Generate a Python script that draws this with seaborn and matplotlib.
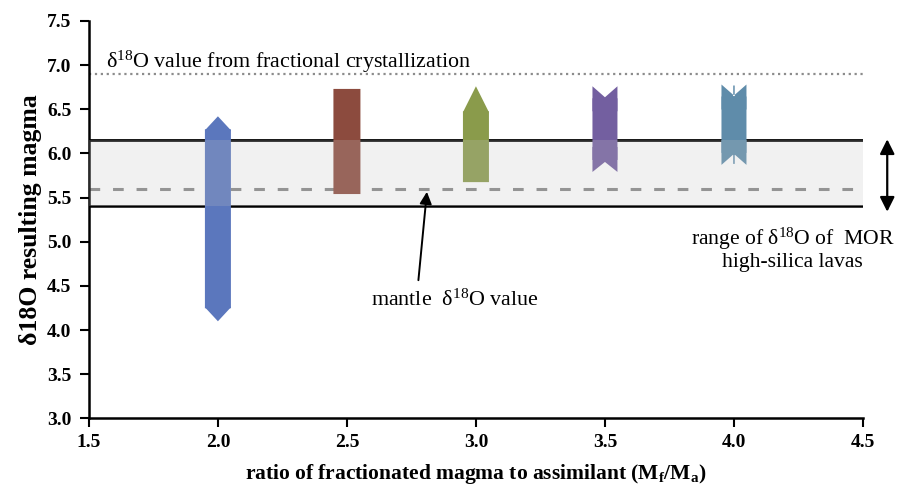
import numpy as np
import pandas as pd
import matplotlib
matplotlib.use("Agg")
import matplotlib.pyplot as plt
from matplotlib.path import Path
import seaborn as sns

# ---------------- data ----------------
ratio = [2.0, 2.5, 3.0, 3.5, 4.0]                 # M_f / M_a
d18o_low = [4.10, 5.54, 5.675, 5.79, 5.87]         # bottom of each column
d18o_high = [6.42, 6.73, 6.76, 6.76, 6.78]         # top of each column
col_colors = ["#5B77BD", "#8C4B3E", "#8A9B4B", "#735FA0", "#5F8CAA"]

frac_cryst_value = 6.9
mor_low, mor_high = 5.4, 6.15
mantle_value = 5.6

xticks = [1.5, 2.0, 2.5, 3.0, 3.5, 4.0, 4.5]
yticks = [3.0, 3.5, 4.0, 4.5, 5.0, 5.5, 6.0, 6.5, 7.0, 7.5]

# ---------------- style ----------------
sns.set_theme(style="ticks")
plt.rcParams["font.family"] = ["Liberation Serif", "DejaVu Serif"]
plt.rcParams["mathtext.fontset"] = "custom"
plt.rcParams["mathtext.rm"] = "Liberation Serif"
plt.rcParams["mathtext.it"] = "Liberation Serif:italic"
plt.rcParams["mathtext.bf"] = "Liberation Serif:bold"
plt.rcParams["axes.edgecolor"] = "black"
plt.rcParams["text.color"] = "black"
plt.rcParams["axes.labelcolor"] = "black"
plt.rcParams["xtick.color"] = "black"
plt.rcParams["ytick.color"] = "black"

fig = plt.figure(figsize=(8.98, 4.86), dpi=100)
ax = fig.add_axes([0.099, 0.139, 0.862, 0.818])
ax.set_xlim(1.5, 4.5)
ax.set_ylim(3.0, 7.5)

pos = ax.get_position()
px_x = pos.width * fig.get_figwidth() * fig.dpi / 3.0
px_y = pos.height * fig.get_figheight() * fig.dpi / 4.5
def dx(px):
    return px / px_x
def dy(px):
    return px / px_y
PT = 72.0 / fig.dpi   # points per pixel

M, L, C = Path.MOVETO, Path.LINETO, Path.CLOSEPOLY

def poly(verts):
    verts = list(verts) + [verts[0]]
    return Path(verts, [M] + [L] * (len(verts) - 2) + [C])

def compound(*polys):
    vs, cs = [], []
    for p in polys:
        vs += list(p.vertices)
        cs += list(p.codes)
    return Path(vs, cs)

def cap(x, y, path, size_px, color):
    sns.scatterplot(x=[x], y=[y], marker=path, s=(size_px * PT) ** 2,
                    color=color, edgecolor="none", linewidth=0,
                    zorder=2, legend=False, ax=ax)

def body(x, lo, hi, w_px, color):
    bars = ax.bar([x], [hi - lo], bottom=[lo], width=dx(w_px), color=color,
                  linewidth=0, zorder=2)
    for b in bars:
        b.set_snap(False)

# reference lines
ax.axhline(frac_cryst_value, color="#8c8c8c", lw=1.6, ls=":", zorder=1)
ax.axhline(mor_high, color="black", lw=2.0, zorder=1)
ax.axhline(mor_low, color="black", lw=1.8, zorder=1)
ax.axhline(mantle_value, color="#888888", lw=2.2, dashes=(3.5, 4.2), zorder=1)

# ---- column 1: diamonds ----
x, lo, hi, c = ratio[0], d18o_low[0], d18o_high[0], col_colors[0]
diamond = poly([(0, 1), (26 / 28, 0), (0, -1), (-26 / 28, 0)])
body(x, lo + dy(13), hi - dy(13), 26, c)
cap(x, hi - dy(14), diamond, 28, c)
cap(x, lo + dy(14), diamond, 28, c)

# ---- column 2: squares ----
x, lo, hi, c = ratio[1], d18o_low[1], d18o_high[1], col_colors[1]
body(x, lo, hi, 27, c)

# ---- column 3: triangles ----
x, lo, hi, c = ratio[2], d18o_low[2], d18o_high[2], col_colors[2]
tri = poly([(0, 1), (1, -1), (-1, -1)])
body(x, lo, hi - dy(25), 26, c)
cap(x, hi - dy(13), tri, 26, c)

# ---- column 4: notched ribbon ----
x, lo, hi, c = ratio[3], d18o_low[3], d18o_high[3], col_colors[3]
top_notch = poly([(-1, 1), (0, 1 - 2 * 11 / 25), (1, 1), (1, -1), (-1, -1)])
bot_notch = poly([(-1, -1), (0, -1 + 2 * 10 / 25), (1, -1), (1, 1), (-1, 1)])
body(x, lo + dy(12), hi - dy(12), 25, c)
cap(x, hi - dy(12.5), top_notch, 25, c)
cap(x, lo + dy(12.5), bot_notch, 25, c)

# ---- column 5: split notched ribbon ----
x, lo, hi, c = ratio[4], d18o_low[4], d18o_high[4], col_colors[4]
t_n = 1 - 2 * 11 / 25
top_split = compound(
    poly([(-1, 1), (0, t_n), (1, 1), (1, -1), (-1, -1)]),
    poly([(-0.06, t_n - 0.05), (0.06, t_n - 0.05), (0.06, 0.92), (-0.06, 0.92)]))
bot_split = compound(
    poly([(-1, -1), (0, -t_n), (1, -1), (1, 1), (-1, 1)]),
    poly([(-0.06, -0.92), (0.06, -0.92), (0.06, -t_n + 0.05), (-0.06, -t_n + 0.05)]))
body(x, lo + dy(12), hi - dy(12), 25, c)
cap(x, hi - dy(12.5), top_split, 25, c)
cap(x, lo + dy(12.5), bot_split, 25, c)

# MOR range shading (drawn over the columns)
ax.axhspan(mor_low, mor_high, color=(195 / 255,) * 3, alpha=0.22, lw=0, zorder=3)

# annotations
ax.text(1.566, 6.97, "δ$^{18}$O value from fractional crystallization",
        fontsize=15.8, ha="left", va="baseline", zorder=6)
ax.text(2.92, 4.28, "mantle  δ$^{18}$O value", fontsize=15.8,
        ha="center", va="baseline", zorder=6)
ax.annotate("", xy=(2.81, 5.565), xytext=(2.777, 4.565),
            arrowprops=dict(arrowstyle="-|>", color="black", lw=1.4,
                            mutation_scale=18, shrinkA=0, shrinkB=0), zorder=6)
ax.annotate("", xy=(4.594, 6.16), xytext=(4.594, 5.34),
            arrowprops=dict(arrowstyle="<|-|>", color="black", lw=1.6,
                            mutation_scale=22, shrinkA=0, shrinkB=0),
            annotation_clip=False, zorder=6)
ax.text(4.227, 4.961, "range of δ$^{18}$O of  MOR", fontsize=15.6,
        ha="center", va="baseline", clip_on=False)
ax.text(4.227, 4.715, "high-silica lavas", fontsize=15.6,
        ha="center", va="baseline", clip_on=False)

# axes
ax.set_xticks(xticks)
ax.set_yticks(yticks)
ax.set_xticklabels([f"{v:.1f}" for v in xticks])
ax.set_yticklabels([f"{v:.1f}" for v in yticks])
ax.tick_params(direction="out", length=6.5, width=1.5, pad=5,
               labelsize=14, colors="black")
ax.tick_params(axis="y", pad=6)
for lab in ax.get_xticklabels() + ax.get_yticklabels():
    lab.set_fontweight("bold")
for s in ["top", "right"]:
    ax.spines[s].set_visible(False)
for s in ["left", "bottom"]:
    ax.spines[s].set_linewidth(1.8)

ax.set_xlabel("ratio of fractionated magma to assimilant (M$_{\\mathbf{f}}$/M$_{\\mathbf{a}}$)",
              fontsize=15.5, fontweight="bold")
ax.set_ylabel("δ18O resulting magma", fontsize=18.5, fontweight="bold")
ax.xaxis.label.set_va("center")
ax.yaxis.label.set_va("center")
ax.xaxis.set_label_coords(0.5, -0.14)
ax.yaxis.set_label_coords(-0.075, 0.5)

fig.savefig("out.png", dpi=100)
